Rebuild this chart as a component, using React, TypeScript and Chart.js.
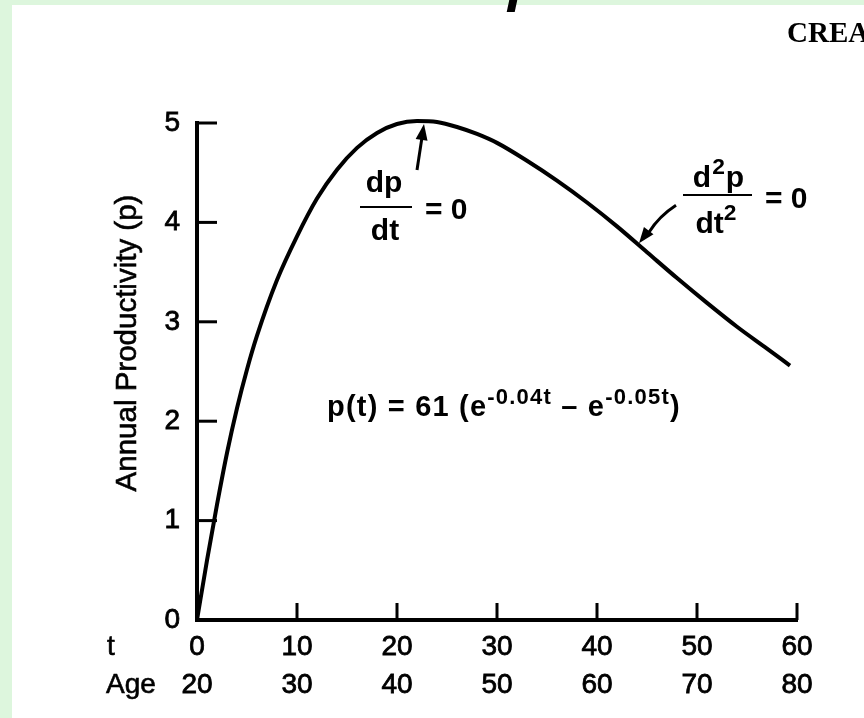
import React, { useEffect, useRef } from "react";
import { Chart, registerables } from "chart.js";

Chart.register(...registerables);

// ---- data ----
const tValues = [0, 1, 2, 3, 4, 5, 6, 8, 10, 12, 14, 16, 18, 20, 22, 24, 26, 28, 30, 33, 36, 39, 42, 45, 48, 51, 54, 57, 59.3];
const productivity = [0, 0.6, 1.16, 1.68, 2.13, 2.52, 2.86, 3.42, 3.86, 4.24, 4.53, 4.75, 4.9, 4.99, 5.02, 5.01, 4.96, 4.89, 4.8, 4.62, 4.42, 4.2, 3.96, 3.7, 3.44, 3.19, 2.95, 2.73, 2.56];
const tTicks = [0, 10, 20, 30, 40, 50, 60];
const ageLabels = ["20", "30", "40", "50", "60", "70", "80"];
const pTicks = [0, 1, 2, 3, 4, 5];
// annotation anchors (data units)
const peakArrowTip = { t: 22.7, p: 5.0 };
const inflectionArrowTip = { t: 44.2, p: 3.79 };

const FONT = '"Liberation Sans", Arial, Helvetica, sans-serif';
const SERIF = '"Liberation Serif", "Times New Roman", serif';

function arrowHead(ctx: CanvasRenderingContext2D, tx: number, ty: number, fx: number, fy: number, len: number, hw: number) {
  const a = Math.atan2(ty - fy, tx - fx);
  const bx = tx - len * Math.cos(a);
  const by = ty - len * Math.sin(a);
  ctx.beginPath();
  ctx.moveTo(tx, ty);
  ctx.lineTo(bx + hw * Math.sin(a), by - hw * Math.cos(a));
  ctx.lineTo(bx - hw * Math.sin(a), by + hw * Math.cos(a));
  ctx.closePath();
  ctx.fill();
}

const decorPlugin = {
  id: "decor",
  afterDatasetsDraw(chart: any) {
    const { ctx, scales } = chart;
    const x = scales.x;
    const y = scales.y;
    const left = chart.chartArea.left;
    const bottom = chart.chartArea.bottom;
    ctx.save();
    ctx.strokeStyle = "#000";
    ctx.fillStyle = "#000";
    ctx.lineWidth = 3;
    // inward ticks on y axis
    pTicks.forEach((v) => {
      if (v === 0) return;
      const py = y.getPixelForValue(v);
      ctx.beginPath();
      ctx.moveTo(left, py);
      ctx.lineTo(left + 20, py);
      ctx.stroke();
    });
    // upward ticks on x axis
    tTicks.forEach((v) => {
      if (v === 0) return;
      const px = x.getPixelForValue(v);
      ctx.beginPath();
      ctx.moveTo(px, bottom);
      ctx.lineTo(px, bottom - 17);
      ctx.stroke();
    });
    // arrow to the peak
    const t1x = x.getPixelForValue(peakArrowTip.t);
    const t1y = y.getPixelForValue(peakArrowTip.p) + 1;
    const f1x = t1x - 7;
    const f1y = t1y + 46;
    ctx.lineWidth = 3;
    ctx.beginPath();
    ctx.moveTo(f1x, f1y);
    ctx.lineTo(t1x - 1.5, t1y + 10);
    ctx.stroke();
    arrowHead(ctx, t1x, t1y, f1x, f1y, 16, 6);
    // arrow to the inflection point
    const t2x = x.getPixelForValue(inflectionArrowTip.t);
    const t2y = y.getPixelForValue(inflectionArrowTip.p);
    const f2x = t2x + 37;
    const f2y = t2y - 38;
    ctx.beginPath();
    ctx.moveTo(f2x, f2y);
    ctx.quadraticCurveTo(t2x + 20, t2y - 27, t2x + 10, t2y - 11);
    ctx.stroke();
    arrowHead(ctx, t2x, t2y, t2x + 13, t2y - 17, 16, 6);
    ctx.restore();
  },
};

function Txt(props: { x: number; y: number; size: number; bold?: boolean; center?: boolean; serif?: boolean; children: any; style?: any }) {
  const { x, y, size, bold, center, serif, children, style } = props;
  const k = serif ? 0.8375 : 0.8465;
  return (
    <div
      style={{
        position: "absolute",
        left: x,
        top: y - k * size,
        fontFamily: serif ? SERIF : FONT,
        fontSize: size,
        fontWeight: bold ? 700 : 400,
        lineHeight: 1,
        whiteSpace: "nowrap",
        color: "#000",
        transform: center ? "translateX(-50%)" : undefined,
        ...style,
      }}
    >
      {children}
    </div>
  );
}

const supStyle: any = { fontSize: "0.76em", position: "relative", top: "-0.55em" };
const heavy: any = { WebkitTextStroke: "0.6px #000" };

export default function App() {
  const ref = useRef<HTMLCanvasElement | null>(null);

  useEffect(() => {
    if (!ref.current) return;
    const chart = new Chart(ref.current, {
      type: "line",
      data: {
        datasets: [
          {
            data: tValues.map((t, i) => ({ x: t, y: productivity[i] })),
            borderColor: "#000",
            borderWidth: 4,
            pointRadius: 0,
            fill: false,
            cubicInterpolationMode: "monotone",
            clip: false as any,
          },
        ],
      },
      options: {
        animation: false,
        responsive: false,
        maintainAspectRatio: false,
        layout: { padding: { left: 0, right: 67, top: 123, bottom: 0 } },
        plugins: { legend: { display: false }, tooltip: { enabled: false }, title: { display: false } },
        scales: {
          x: {
            type: "linear",
            min: 0,
            max: 60,
            afterBuildTicks: (s: any) => {
              s.ticks = tTicks.map((v) => ({ value: v }));
            },
            afterFit: (s: any) => {
              s.height = 98;
            },
            grid: { display: false, drawTicks: false },
            border: { display: true, color: "#000", width: 4 },
            ticks: {
              color: "#000",
              font: { family: FONT, size: 28, lineHeight: 1.36 },
              padding: 8,
              maxRotation: 0,
              autoSkip: false,
              textStrokeColor: "#000",
              textStrokeWidth: 0.8,
              callback: (_v: any, i: number) => [String(tTicks[i]), ageLabels[i]],
            },
          },
          y: {
            type: "linear",
            min: 0,
            max: 5,
            afterBuildTicks: (s: any) => {
              s.ticks = pTicks.map((v) => ({ value: v }));
            },
            afterFit: (s: any) => {
              s.width = 197;
            },
            grid: { display: false, drawTicks: false },
            border: { display: true, color: "#000", width: 4 },
            ticks: {
              color: "#000",
              font: { family: FONT, size: 28 },
              padding: 17,
              autoSkip: false,
              textStrokeColor: "#000",
              textStrokeWidth: 0.8,
            },
          },
        },
      },
      plugins: [decorPlugin],
    } as any);
    return () => chart.destroy();
  }, []);

  return (
    <div style={{ position: "fixed", left: 0, top: 0, width: 864, height: 718, background: "#fff", overflow: "hidden" }}>
      <canvas ref={ref} width={864} height={718} style={{ position: "absolute", left: 0, top: 0, display: "block" }} />
      <div style={{ position: "absolute", left: 0, top: 0, width: 864, height: 5, background: "rgb(221,246,221)" }} />
      <div style={{ position: "absolute", left: 0, top: 0, width: 12, height: 718, background: "rgb(221,246,221)" }} />
      <div style={{ position: "absolute", left: 508, top: 0, width: 8, height: 12, background: "#000", transform: "skewX(-12deg)" }} />
      <Txt x={787} y={42} size={29} serif bold>CREA</Txt>
      {/* y-axis title */}
      <div
        style={{
          position: "absolute",
          left: 126,
          top: 343,
          transform: "translate(-50%, -50%) rotate(-90deg)",
          fontFamily: FONT,
          fontSize: 29.5,
          lineHeight: 1,
          whiteSpace: "nowrap",
          color: "#000",
          ...heavy,
        }}
      >
        Annual Productivity (p)
      </div>
      {/* row labels */}
      <Txt x={107} y={656} size={28} style={heavy}>t</Txt>
      <Txt x={106} y={694} size={28} style={heavy}>Age</Txt>
      {/* dp/dt = 0 */}
      <Txt x={384} y={192} size={30} bold center>dp</Txt>
      <div style={{ position: "absolute", left: 360, top: 206, width: 52, height: 2, background: "#000" }} />
      <Txt x={385} y={240} size={30} bold center>dt</Txt>
      <Txt x={425} y={219} size={30} bold>= 0</Txt>
      {/* d2p/dt2 = 0 */}
      <Txt x={719} y={187} size={30} bold center style={{ letterSpacing: 1 }}>
        d<span style={supStyle}>2</span>p
      </Txt>
      <div style={{ position: "absolute", left: 683, top: 194, width: 69, height: 2, background: "#000" }} />
      <Txt x={716} y={233} size={30} bold center>
        dt<span style={supStyle}>2</span>
      </Txt>
      <Txt x={765} y={208} size={30} bold>= 0</Txt>
      {/* formula */}
      <Txt x={327} y={417} size={29} bold style={{ letterSpacing: 1.2 }}>
        p(t) = 61 (e<span style={supStyle}>-0.04t</span> – e<span style={supStyle}>-0.05t</span>)
      </Txt>
    </div>
  );
}
